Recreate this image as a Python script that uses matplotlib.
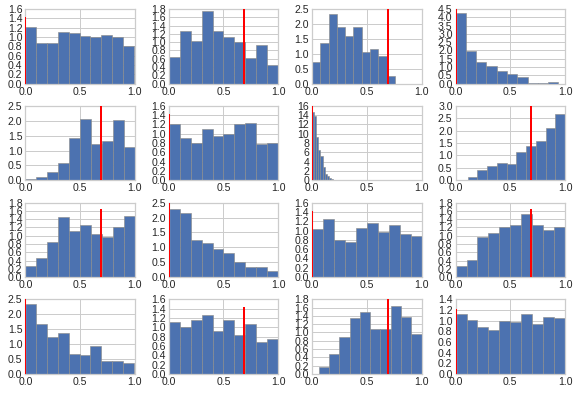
import numpy as np
import matplotlib
matplotlib.use('Agg')
import matplotlib.pyplot as plt


# Висоти стовпців (щільність), 10 інтервалів у кожній панелі
heights = [
    [1.22, 0.88, 0.88, 1.11, 1.08, 1.02, 0.99, 1.04, 1.01, 0.81],
    [0.65, 1.27, 1.02, 1.76, 1.27, 1.12, 1.00, 0.61, 0.92, 0.46],
    [0.73, 1.35, 2.33, 1.91, 1.61, 1.91, 1.07, 1.17, 0.93, 0.27],
    [4.24, 1.98, 1.30, 1.08, 0.76, 0.58, 0.40, 0.03, 0.03, 0.11],
    [0.03, 0.11, 0.29, 0.59, 1.43, 2.07, 1.21, 1.32, 2.03, 1.12],
    [1.21, 0.92, 0.80, 1.10, 0.95, 1.00, 1.21, 1.24, 0.77, 0.80],
    [14.6, 13.9, 9.3, 6.5, 5.2, 2.8, 1.3, 0.9, 0.4, 0.2],
    [0.13, 0.42, 0.58, 0.69, 0.66, 1.14, 1.39, 1.59, 2.11, 2.66],
    [0.26, 0.46, 0.86, 1.46, 1.12, 1.27, 1.05, 0.98, 1.22, 1.48],
    [2.27, 2.14, 1.26, 1.15, 0.95, 0.82, 0.52, 0.33, 0.33, 0.22],
    [1.04, 1.25, 0.80, 0.76, 1.06, 1.16, 0.97, 1.11, 0.93, 0.88],
    [0.26, 0.42, 0.96, 1.06, 1.22, 1.26, 1.52, 1.27, 1.14, 1.20],
    [2.35, 1.69, 1.24, 1.38, 0.67, 0.63, 0.93, 0.43, 0.43, 0.35],
    [1.12, 1.00, 1.15, 1.26, 0.92, 1.15, 0.83, 1.08, 0.69, 0.75],
    [0.17, 0.48, 0.90, 1.36, 1.49, 1.09, 1.09, 1.65, 1.38, 0.97],
    [1.12, 1.01, 0.89, 0.82, 0.99, 0.98, 1.12, 0.94, 1.07, 1.05],
]

# Межі даних (мінімум, максимум) для кожної панелі
ranges = [
    (0.0, 0.99), (0.0, 1.0), (0.0, 0.755), (0.0, 0.94),
    (0.0, 1.0), (0.0, 1.0), (0.0, 0.19), (0.11, 1.0),
    (0.0, 1.0), (0.0, 1.0), (0.0, 1.0), (0.0, 1.0),
    (0.0, 0.99), (0.0, 1.0), (0.06, 1.0), (0.0, 1.0),
]

# Червона лінія: положення та висота
line_x = [0.0, 0.69, 0.69, 0.0,
          0.69, 0.0, 0.0, 0.69,
          0.69, 0.0, 0.0, 0.69,
          0.0, 0.69, 0.69, 0.0]
line_h = [1.4, 1.8, 2.5, 4.5,
          2.5, 1.4, 16, 3.0,
          1.62, 2.5, 1.4, 1.62,
          2.5, 1.42, 1.8, 1.2]

# Межі та крок осі y
ytop = [1.6, 1.8, 2.5, 4.5,
        2.5, 1.6, 16, 3.0,
        1.8, 2.5, 1.6, 1.8,
        2.5, 1.6, 1.8, 1.4]
ystep = [0.2, 0.2, 0.5, 0.5,
         0.5, 0.2, 2, 0.5,
         0.2, 0.5, 0.2, 0.2,
         0.5, 0.2, 0.2, 0.2]

plt.rcParams['font.family'] = ['Liberation Sans', 'DejaVu Sans']
plt.rcParams['font.size'] = 10

fig, axes = plt.subplots(4, 4, figsize=(8, 5.5), dpi=72)
fig.subplots_adjust(left=0.044, right=0.981, top=0.977, bottom=0.056,
                    wspace=0.31, hspace=0.3)

for i, ax in enumerate(axes.flat):
    lo, hi = ranges[i]
    edges = np.linspace(lo, hi, 11)
    ax.hist(edges[:-1], bins=edges, weights=heights[i],
            color='#4c72b0', edgecolor='#8c8c8c', linewidth=0.6)
    ax.plot([line_x[i], line_x[i]], [0, line_h[i]], color='red',
            linewidth=2, zorder=3, clip_on=True)

    ax.set_xlim(0, 1)
    ax.set_ylim(0, ytop[i])
    ax.set_xticks([0.0, 0.5, 1.0])
    yt = np.arange(0, ytop[i] + ystep[i] / 2, ystep[i])
    ax.set_yticks(yt)
    if ystep[i] >= 1:
        ax.set_yticklabels(['%d' % v for v in yt])
    else:
        ax.set_yticklabels(['%.1f' % v for v in yt])
    ax.set_xticklabels(['0.0', '0.5', '1.0'])

    ax.set_axisbelow(True)
    ax.grid(True, color='#cccccc', linewidth=1)
    ax.tick_params(length=0, pad=3, colors='#262626', labelsize=10.5)
    for s in ax.spines.values():
        s.set_color('#cccccc')
        s.set_linewidth(1.25)

fig.savefig('out.png', dpi=72, facecolor='white')
